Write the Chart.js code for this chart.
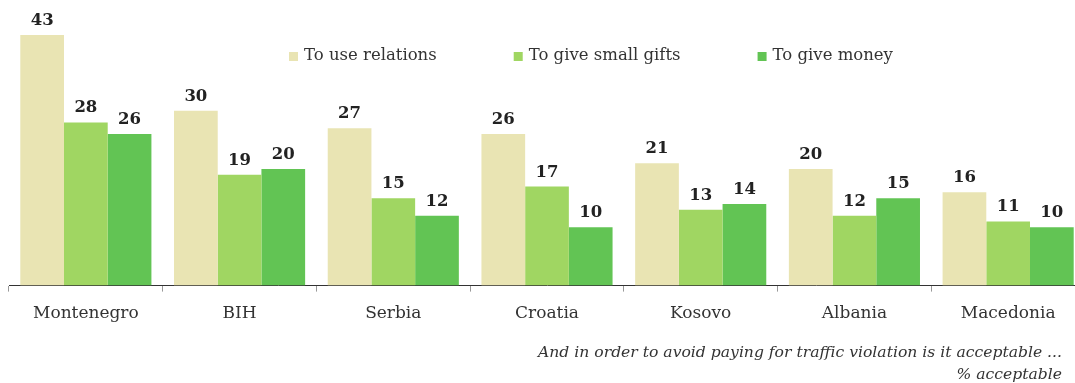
<!DOCTYPE html>
<html lang="en">
<head>
  <meta charset="UTF-8">
  <title>Acceptable ways to avoid paying for a traffic violation</title>
  <script src="https://cdn.jsdelivr.net/npm/chart.js@4.4.1/dist/chart.umd.min.js"></script>
  <style>
    body {
      margin: 0;
      padding: 0;
      background: #fff;
      overflow: hidden;
      width: 1075px;
      height: 383px;
      position: relative;
    }

    .chart-box {
      position: absolute;
      left: 0;
      top: 0;
      width: 1085px;
      height: 343px;
    }

    .note {
      position: absolute;
      left: 0;
      top: 341px;
      width: 1062px;
      text-align: right;
      font-family: 'DejaVu Serif', serif;
      font-style: italic;
      font-size: 15.6px;
      line-height: 22px;
      color: #333;
    }
  </style>
</head>
<body>
  <div class="chart-box">
    <canvas id="bribeChart"></canvas>
  </div>
  <div class="note">And in order to avoid paying for traffic violation is it acceptable ...<br>% acceptable</div>

  <script>
  // 数据
  const countries = ['Montenegro', 'BIH', 'Serbia', 'Croatia', 'Kosovo', 'Albania', 'Macedonia'];
  const useRelations = [43, 30, 27, 26, 21, 20, 16];
  const smallGifts = [28, 19, 15, 17, 13, 12, 11];
  const giveMoney = [26, 20, 12, 10, 14, 15, 10];

  const serif = "'DejaVu Serif', serif";

  // 柱子上方的数值
  const valueLabels = {
    id: 'valueLabels',
    afterDatasetsDraw(chart) {
      const ctx = chart.ctx;
      ctx.save();
      ctx.font = 'bold 16.5px ' + serif;
      ctx.fillStyle = '#222';
      ctx.textAlign = 'center';
      ctx.textBaseline = 'alphabetic';
      chart.data.datasets.forEach((ds, i) => {
        chart.getDatasetMeta(i).data.forEach((bar, j) => {
          ctx.fillText(ds.data[j], bar.x, bar.y - 10);
        });
      });
      ctx.restore();
    }
  };

  // 图例画在图表区域内
  const insideLegend = {
    id: 'insideLegend',
    afterDraw(chart) {
      const ctx = chart.ctx;
      let x = 289;
      const y = 56;
      ctx.save();
      ctx.font = '16.5px ' + serif;
      ctx.textBaseline = 'middle';
      ctx.textAlign = 'left';
      chart.data.datasets.forEach(ds => {
        ctx.fillStyle = ds.backgroundColor;
        ctx.fillRect(x, y - 4, 9, 9);
        ctx.fillStyle = '#333';
        ctx.fillText(ds.label, x + 15, y);
        x += 15 + ctx.measureText(ds.label).width + 77;
      });
      ctx.restore();
    }
  };

  const ctx = document.getElementById('bribeChart').getContext('2d');
  new Chart(ctx, {
    type: 'bar',
    data: {
      labels: countries,
      datasets: [
        { label: 'To use relations', data: useRelations, backgroundColor: '#e9e4b3' },
        { label: 'To give small gifts', data: smallGifts, backgroundColor: '#a0d662' },
        { label: 'To give money', data: giveMoney, backgroundColor: '#62c454' }
      ]
    },
    options: {
      responsive: true,
      maintainAspectRatio: false,
      animation: false,
      layout: {
        padding: { left: 9, right: 0, top: 0, bottom: 7 }
      },
      datasets: {
        bar: {
          categoryPercentage: 0.853,
          barPercentage: 1.0
        }
      },
      plugins: {
        legend: { display: false },
        tooltip: { enabled: false }
      },
      scales: {
        x: {
          grid: {
            display: true,
            drawOnChartArea: false,
            drawTicks: true,
            tickLength: 6,
            color: '#999'
          },
          border: {
            display: true,
            color: '#333',
            width: 1
          },
          ticks: {
            padding: 12,
            color: '#333',
            font: { family: serif, size: 17 }
          }
        },
        y: {
          display: false,
          min: 0,
          max: 49
        }
      }
    },
    plugins: [valueLabels, insideLegend]
  });
  </script>
</body>
</html>
